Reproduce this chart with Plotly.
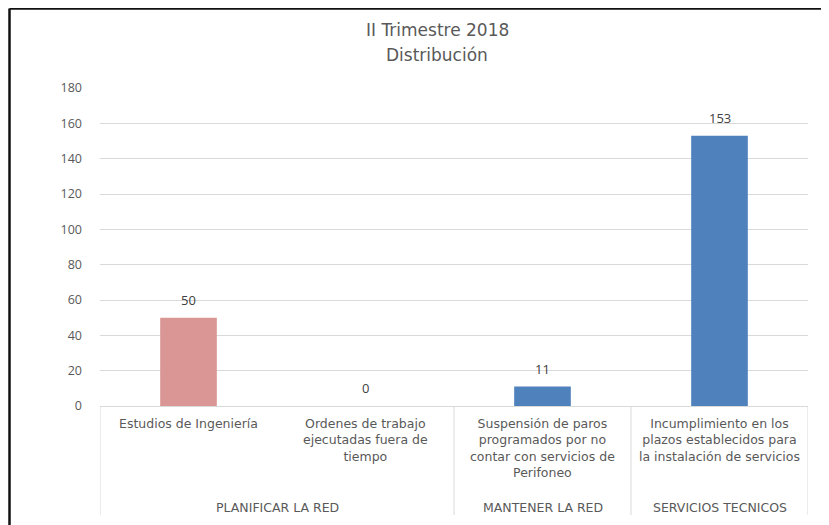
import plotly.graph_objects as go

# categories (second level) and their groups (first level)
categories = [
    "Estudios de Ingeniería",
    "Ordenes de trabajo<br>ejecutadas fuera de<br>tiempo",
    "Suspensión de paros<br>programados por no<br>contar con servicios de<br>Perifoneo",
    "Incumplimiento en los<br>plazos establecidos para<br>la instalación de servicios",
]
groups = ["PLANIFICAR LA RED", "MANTENER LA RED", "SERVICIOS TECNICOS"]
group_span = [(0, 1), (2, 2), (3, 3)]  # first/last category index of each group
values = [50, 0, 11, 153]
bar_colors = ["#D99694", "#4F81BD", "#4F81BD", "#4F81BD"]
title_lines = ["II Trimestre 2018", "Distribución"]

TXT = "#595959"
FONT = "'DejaVu Sans', sans-serif"
NUMFONT = "'Open Sans', sans-serif"
# the page has an 8px body margin, so positions are relative to (8, 8)
L, R, T, B = 92, 29, 80, 127
W, H = 829, 525
pw, ph = W - L - R, H - T - B

pos = list(range(len(categories)))

fig = go.Figure()
fig.add_trace(go.Bar(
    x=pos, y=values,
    marker=dict(color=bar_colors, line=dict(width=0)),
    width=0.32,
    hoverinfo="skip",
))

# data labels
for i, v in enumerate(values):
    fig.add_annotation(x=i, y=v, xref="x", yref="y", text=str(v), showarrow=False,
                       yanchor="bottom", yshift=7,
                       font=dict(family=NUMFONT, size=13, color="#404040"))

# title lines
for k, t in enumerate(title_lines):
    fig.add_annotation(x=(437 - 8 - L) / pw, y=1 + (T - (30 + 25 * k - 8)) / ph,
                       xref="paper", yref="paper", text=t, showarrow=False,
                       xanchor="center", yanchor="middle",
                       font=dict(family=FONT, size=17, color=TXT))

# category labels
for i, c in enumerate(categories):
    fig.add_annotation(x=i, y=0, xref="x", yref="paper", text=c, showarrow=False,
                       yanchor="top", yshift=-8, align="center",
                       font=dict(family=FONT, size=12.5, color=TXT))

# group labels
for g, (a, b) in zip(groups, group_span):
    fig.add_annotation(x=(a + b) / 2, y=0, xref="x", yref="paper", text=g, showarrow=False,
                       yanchor="middle", yshift=-101,
                       font=dict(family=FONT, size=12.5, color=TXT))

# separators of the category axis
depth = (515 - 406) / ph
for xs in [-0.5, 1.5, 2.5, 3.5]:
    fig.add_shape(type="line", xref="x", yref="paper", x0=xs, x1=xs, y0=0, y1=-depth,
                  line=dict(color="#D9D9D9", width=1))

# outer chart frame (top and left edges)
fx = (1.5 - L) / pw
fy = 1 + (T - 0.5) / ph
fig.add_shape(type="line", xref="paper", yref="paper", x0=fx, x1=(W - L) / pw + 0.02,
              y0=fy, y1=fy, line=dict(color="#111111", width=2.5))
fig.add_shape(type="line", xref="paper", yref="paper", x0=fx, x1=fx,
              y0=fy, y1=-(B + 5) / ph, line=dict(color="#111111", width=2.5))

fig.update_layout(
    width=W, height=H,
    margin=dict(l=L, r=R, t=T, b=B),
    paper_bgcolor="white", plot_bgcolor="white",
    showlegend=False,
    xaxis=dict(range=[-0.5, 3.5], showticklabels=False, showgrid=False, zeroline=False,
               showline=True, linecolor="#D9D9D9", linewidth=1, ticks="", fixedrange=True),
    yaxis=dict(range=[0, 180], dtick=20, tick0=0, showgrid=True, gridcolor="#D9D9D9",
               gridwidth=1, zeroline=False, showline=False, ticks="",
               ticklabelstandoff=17,
               tickfont=dict(family=NUMFONT, size=12.5, color=TXT)),
    font=dict(family=FONT, color=TXT),
)

fig.write_html("out.html")
